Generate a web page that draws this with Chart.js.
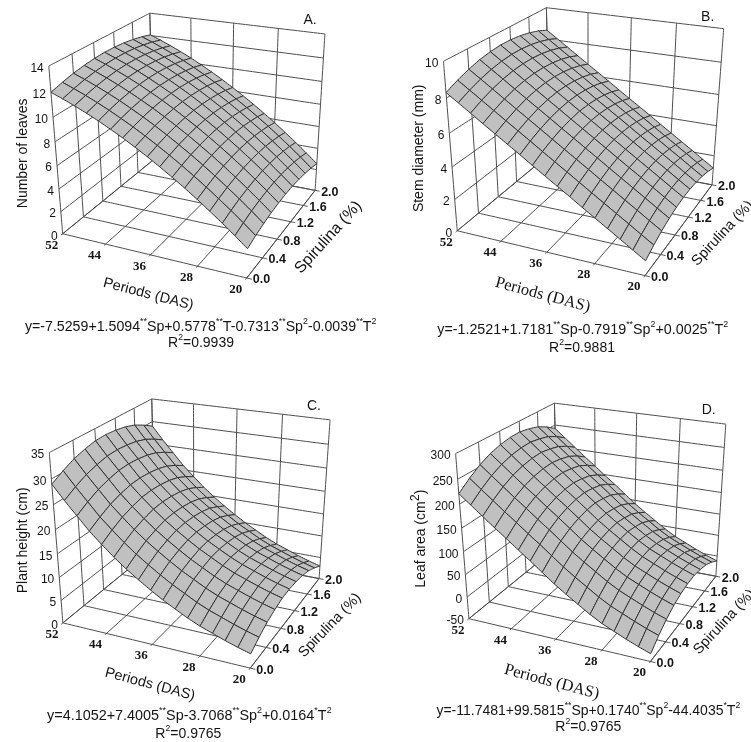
<!DOCTYPE html>
<html><head><meta charset="utf-8">
<script src="https://cdn.jsdelivr.net/npm/chart.js@4"></script>
<style>html,body{margin:0;padding:0;background:#fff;overflow:hidden;width:751px;height:742px}canvas{position:absolute}</style>
</head><body>
<script>
// ---------- axes ----------
const periods = [52,50,48,46,44,42,40,38,36,34,32,30,28,26,24,22,20];
const spirulinaLevels = [0,0.2,0.4,0.6,0.8,1.0,1.2,1.4,1.6,1.8,2.0];
const periodTicks = [52,44,36,28,20];
const spirulinaTicks = [0,0.4,0.8,1.2,1.6,2.0];
const leavesTicks = [0,2,4,6,8,10,12,14];
const stemTicks = [0,2,4,6,8,10];
const heightTicks = [0,5,10,15,20,25,30,35];
const areaTicks = [-50,0,50,100,150,200,250,300];

// ---------- values: one row per period (52 -> 20), one column per spirulina level (0 -> 2) ----------
const leavesGrid = [
[11.97,12.24,12.46,12.61,12.71,12.75,12.73,12.65,12.51,12.32,12.06],
[11.61,11.88,12.10,12.25,12.35,12.39,12.37,12.29,12.15,11.96,11.70],
[11.22,11.49,11.71,11.86,11.96,12.00,11.98,11.90,11.76,11.57,11.31],
[10.80,11.07,11.29,11.44,11.54,11.58,11.56,11.48,11.34,11.15,10.89],
[10.35,10.62,10.84,10.99,11.09,11.13,11.11,11.03,10.89,10.70,10.44],
[9.86,10.13,10.35,10.50,10.60,10.64,10.62,10.54,10.40,10.21,9.95],
[9.35,9.62,9.84,9.99,10.09,10.13,10.11,10.03,9.89,9.70,9.44],
[8.80,9.07,9.29,9.44,9.54,9.58,9.56,9.48,9.34,9.15,8.89],
[8.22,8.49,8.71,8.86,8.96,9.00,8.98,8.90,8.76,8.57,8.31],
[7.61,7.88,8.10,8.25,8.35,8.39,8.37,8.29,8.15,7.96,7.70],
[6.97,7.24,7.46,7.61,7.71,7.75,7.73,7.65,7.51,7.32,7.06],
[6.30,6.57,6.79,6.94,7.04,7.08,7.06,6.98,6.84,6.65,6.39],
[5.60,5.87,6.09,6.24,6.34,6.38,6.36,6.28,6.14,5.95,5.69],
[4.86,5.13,5.35,5.50,5.60,5.64,5.62,5.54,5.40,5.21,4.95],
[4.10,4.37,4.59,4.74,4.84,4.88,4.86,4.78,4.64,4.45,4.19],
[3.30,3.57,3.79,3.94,4.04,4.08,4.06,3.98,3.84,3.65,3.39],
[2.47,2.74,2.96,3.11,3.21,3.25,3.23,3.15,3.01,2.82,2.56]];
const stemGrid = [
[8.30,8.61,8.86,9.05,9.17,9.23,9.22,9.15,9.02,8.83,8.57],
[7.84,8.15,8.40,8.59,8.71,8.77,8.76,8.69,8.56,8.37,8.11],
[7.38,7.69,7.94,8.13,8.25,8.31,8.30,8.23,8.10,7.91,7.65],
[6.91,7.22,7.47,7.66,7.78,7.84,7.83,7.76,7.63,7.44,7.18],
[6.45,6.76,7.01,7.20,7.32,7.38,7.37,7.30,7.17,6.98,6.72],
[5.99,6.30,6.55,6.74,6.86,6.92,6.91,6.84,6.71,6.52,6.26],
[5.53,5.84,6.09,6.28,6.40,6.46,6.45,6.38,6.25,6.06,5.80],
[5.06,5.37,5.62,5.81,5.93,5.99,5.98,5.91,5.78,5.59,5.33],
[4.60,4.91,5.16,5.35,5.47,5.53,5.52,5.45,5.32,5.13,4.87],
[4.14,4.45,4.70,4.89,5.01,5.07,5.06,4.99,4.86,4.67,4.41],
[3.68,3.99,4.24,4.43,4.55,4.61,4.60,4.53,4.40,4.21,3.95],
[3.21,3.52,3.77,3.96,4.08,4.14,4.13,4.06,3.93,3.74,3.48],
[2.75,3.06,3.31,3.50,3.62,3.68,3.67,3.60,3.47,3.28,3.02],
[2.29,2.60,2.85,3.04,3.16,3.22,3.21,3.14,3.01,2.82,2.56],
[1.83,2.14,2.39,2.58,2.70,2.76,2.75,2.68,2.55,2.36,2.10],
[1.36,1.67,1.92,2.11,2.23,2.29,2.28,2.21,2.08,1.89,1.63],
[0.90,1.21,1.46,1.65,1.77,1.83,1.82,1.75,1.62,1.43,1.17]];
const heightGrid = [
[29.0,30.3,31.4,32.1,32.6,32.7,32.5,32.1,31.4,30.3,29.0],
[26.2,27.5,28.6,29.3,29.8,29.9,29.7,29.3,28.6,27.5,26.2],
[23.6,24.9,26.0,26.7,27.2,27.3,27.1,26.7,26.0,24.9,23.6],
[21.0,22.3,23.4,24.1,24.6,24.7,24.5,24.1,23.4,22.3,21.0],
[18.8,20.1,21.2,21.9,22.4,22.5,22.3,21.9,21.2,20.1,18.8],
[16.7,18.0,19.1,19.8,20.3,20.4,20.2,19.8,19.1,18.0,16.7],
[14.8,16.1,17.2,17.9,18.4,18.5,18.3,17.9,17.2,16.1,14.8],
[13.1,14.4,15.5,16.2,16.7,16.8,16.6,16.2,15.5,14.4,13.1],
[11.5,12.8,13.9,14.6,15.1,15.2,15.0,14.6,13.9,12.8,11.5],
[10.0,11.3,12.4,13.1,13.6,13.7,13.5,13.1,12.4,11.3,10.0],
[8.7,10.0,11.1,11.8,12.3,12.4,12.2,11.8,11.1,10.0,8.7],
[7.4,8.7,9.8,10.5,11.0,11.1,10.9,10.5,9.8,8.7,7.4],
[6.3,7.6,8.7,9.4,9.9,10.0,9.8,9.4,8.7,7.6,6.3],
[5.4,6.7,7.8,8.5,9.0,9.1,8.9,8.5,7.8,6.7,5.4],
[4.5,5.8,6.9,7.6,8.1,8.2,8.0,7.6,6.9,5.8,4.5],
[3.7,5.0,6.1,6.8,7.3,7.4,7.2,6.8,6.1,5.0,3.7],
[3.0,4.3,5.4,6.1,6.6,6.7,6.5,6.1,5.4,4.3,3.0]];
const areaGrid = [
[221,239,254,265,272,276,277,273,267,256,242],
[202,220,235,246,253,257,258,254,248,237,223],
[183,201,216,227,234,238,239,235,229,218,204],
[164,182,197,208,215,219,220,216,210,199,185],
[146,164,179,190,197,201,202,198,192,181,167],
[127,145,160,171,178,182,183,179,173,162,148],
[109,127,142,153,160,164,165,161,155,144,130],
[90,108,123,134,141,145,146,142,136,125,111],
[71,89,104,115,122,126,127,123,117,106,92],
[54,72,87,98,105,109,110,106,100,89,75],
[38,56,71,82,89,93,94,90,84,73,59],
[22,40,55,66,73,77,78,74,68,57,43],
[8,26,41,52,59,63,64,60,54,43,29],
[-3,15,30,41,48,52,53,49,43,32,18],
[-14,4,19,30,37,41,42,38,32,21,7],
[-24,-6,9,20,27,31,32,28,22,11,-3],
[-33,-15,0,11,18,22,23,19,13,2,-12]];

// ---------- 3-D camera of each panel: where known box points land (3x crop units) ----------
const SANS = '"Liberation Sans", Arial, sans-serif', SERIF = '"Liberation Serif", "Times New Roman", serif';
const panels = [
 { left:0, top:0, width:385, height:370, grid:leavesGrid, zTicks:leavesTicks,
   cam:{ wallTop:[[148,195],[215,163],[280,130],[340,97],[397,67],[450,38]],
         wallFloor:[[188,700],[250,650],[310,603],[365,558],[412,517]],
         backTop:[[450,38],[573,55],[700,72],[835,85],[975,100]],
         front:[[188,700],[315,735],[450,768],[595,800],[740,830]],
         farFloor:[945,572] },
   zTitle:{t:'Number of leaves',x:70,y:460,size:14}, tTitle:{t:'Periods (DAS)',x:445,y:883,size:14.5,rot:14.5,font:SANS},
   sTitle:{t:'Spirulina (%)',x:985,y:712,size:16,rot:-48}, tag:{t:'A.',x:930,y:60},
   eq:{t:'y=-7.5259+1.5094^**^Sp+0.5778^**^T-0.7313^**^Sp^2^-0.0039^**^T^2^',x:602,y:980,size:14.2}, r2:{t:'R^2^=0.9939',x:603,y:1030} },
 { left:376, top:0, width:375, height:370, grid:stemGrid, zTicks:stemTicks,
   cam:{ wallTop:[[205,180],[275,145],[340,112],[400,80],[457,50],[510,22]],
         wallFloor:[[245,690],[310,640],[367,592],[420,547]],
         backTop:[[510,22],[637,42],[767,55],[903,70],[1043,87]],
         front:[[245,690],[375,725],[510,760],[655,793],[805,827]],
         farFloor:[1010,548] },
   zTitle:{t:'Stem diameter (mm)',x:128,y:445,size:14}, tTitle:{t:'Periods (DAS)',x:500,y:885,size:16.5,rot:15,font:SERIF},
   sTitle:{t:'Spirulina (%)',x:1040,y:700,size:14.5,rot:-47}, tag:{t:'B.',x:995,y:50},
   eq:{t:'y=-1.2521+1.7181^**^Sp-0.7919^**^Sp^2^+0.0025^**^T^2^',x:620,y:990,size:14.3}, r2:{t:'R^2^=0.9881',x:618,y:1045} },
 { left:0, top:372, width:385, height:370, grid:heightGrid, zTicks:heightTicks,
   cam:{ wallTop:[[148,237],[218,205],[285,172],[345,140],[403,110],[455,80]],
         wallFloor:[[190,752],[252,700],[310,652],[365,605]],
         backTop:[[455,80],[580,97],[712,110],[848,125],[990,145]],
         front:[[190,752],[320,790],[455,820],[600,852],[750,885]],
         farFloor:[958,620] },
   zTitle:{t:'Plant height (cm)',x:68,y:505,size:14}, tTitle:{t:'Periods (DAS)',x:450,y:937,size:14.5,rot:15,font:SANS},
   sTitle:{t:'Spirulina (%)',x:990,y:760,size:14.5,rot:-46}, tag:{t:'C.',x:942,y:103},
   eq:{t:'y=4.1052+7.4005^**^Sp-3.7068^**^Sp^2^+0.0164^*^T^2^',x:568,y:1032,size:14.4}, r2:{t:'R^2^=0.9765',x:565,y:1085} },
 { left:376, top:372, width:375, height:370, grid:areaGrid, zTicks:areaTicks,
   cam:{ wallTop:[[238,243],[308,210],[370,177],[430,150],[485,120],[535,93]],
         wallFloor:[[278,740],[340,690],[395,645],[450,600]],
         backTop:[[535,93],[657,108],[782,125],[912,140],[1050,155]],
         front:[[278,740],[410,770],[540,800],[680,835],[820,870]],
         farFloor:[1020,612] },
   zTitle:{t:'Leaf area (cm^2^)',x:135,y:500,size:14}, tTitle:{t:'Periods (DAS)',x:527,y:930,size:16.5,rot:15,font:SERIF},
   sTitle:{t:'Spirulina (%)',x:1045,y:750,size:14.5,rot:-47}, tag:{t:'D.',x:998,y:113},
   eq:{t:'y=-11.7481+99.5815^**^Sp+0.1740^**^Sp^2^-44.4035^*^T^2^',x:637,y:1017,size:14}, r2:{t:'R^2^=0.9765',x:637,y:1065} }
];

// ---------- projective camera fit ----------
function solve(A,b){
  const n=b.length, M=A.map((r,i)=>[...r,b[i]]);
  for(let c=0;c<n;c++){
    let p=c; for(let r=c+1;r<n;r++) if(Math.abs(M[r][c])>Math.abs(M[p][c])) p=r;
    [M[c],M[p]]=[M[p],M[c]];
    for(let r=0;r<n;r++){ if(r===c) continue; const f=M[r][c]/M[c][c]; for(let k=c;k<=n;k++) M[r][k]-=f*M[c][k]; }
  }
  return M.map((r,i)=>r[n]/r[i]);
}
function fitCamera(cam){
  const pts=[], U=t=>(52-t)/32, V=s=>s/2;
  cam.wallTop.forEach((p,i)=>pts.push([0,V(spirulinaTicks[i]),1,p[0]/3,p[1]/3]));
  cam.wallFloor.forEach((p,i)=>pts.push([0,V(spirulinaTicks[i]),0,p[0]/3,p[1]/3]));
  cam.backTop.forEach((p,i)=>pts.push([U(periodTicks[i]),1,1,p[0]/3,p[1]/3]));
  cam.front.forEach((p,i)=>pts.push([U(periodTicks[i]),0,0,p[0]/3,p[1]/3]));
  pts.push([1,1,0,cam.farFloor[0]/3,cam.farFloor[1]/3]);
  const N=Array.from({length:11},()=>new Array(11).fill(0)), B=new Array(11).fill(0);
  const add=(row,rhs)=>{for(let i=0;i<11;i++){B[i]+=row[i]*rhs;for(let j=0;j<11;j++)N[i][j]+=row[i]*row[j];}};
  pts.forEach(([u,v,w,x,y])=>{
    add([u,v,w,1,0,0,0,0,-x*u,-x*v,-x*w],x);
    add([0,0,0,0,u,v,w,1,-y*u,-y*v,-y*w],y);
  });
  const p=solve(N,B);
  return (u,v,w)=>{const d=p[8]*u+p[9]*v+p[10]*w+1;return {x:(p[0]*u+p[1]*v+p[2]*w+p[3])/d,y:(p[4]*u+p[5]*v+p[6]*w+p[7])/d};};
}

// ---------- text ----------
function drawText(ctx,str,x,y,o){
  o=o||{}; const size=o.size||12, fam=o.font||SANS, pre=(o.style?o.style+' ':'')+(o.weight?o.weight+' ':'');
  const segs=String(str).split('^').map((t,i)=>({t,sup:i%2===1})).filter(s=>s.t);
  const fnt=s=>pre+(s.sup?size*(s.t==='2'&&o.bigSup?0.9:0.62):size)+'px '+fam;
  let w=0; segs.forEach(s=>{ctx.font=fnt(s);w+=ctx.measureText(s.t).width;});
  ctx.save(); ctx.translate(x,y); ctx.rotate((o.rot||0)*Math.PI/180);
  ctx.fillStyle='#141414'; ctx.textBaseline='middle'; ctx.textAlign='left';
  let cx=o.align==='right'?-w:o.align==='left'?0:-w/2;
  segs.forEach(s=>{ctx.font=fnt(s);ctx.fillText(s.t,cx,s.sup?-size*0.38:0);cx+=ctx.measureText(s.t).width;});
  ctx.restore();
}

// ---------- one chart per panel ----------
const STRAIGHT = 0.001; // non-zero keeps Chart.js off its column-merging fast path, so unsorted cells stay exact
panels.forEach(P=>{
  const canvas=document.createElement('canvas');
  canvas.width=P.width; canvas.height=P.height;
  canvas.style.cssText=`left:${P.left}px;top:${P.top}px;width:${P.width}px;height:${P.height}px`;
  document.body.appendChild(canvas);
  const proj=fitCamera(P.cam);
  const zMin=P.zTicks[0], zMax=P.zTicks[P.zTicks.length-1];
  const at=(t,s,z)=>proj((52-t)/32,s/2,(z-zMin)/(zMax-zMin));
  const painted=[];
  const line=(a,b)=>painted.push({data:[a,b],showLine:true,fill:false,pointRadius:0,borderColor:'#4e4e4e',borderWidth:1,tension:STRAIGHT});
  const stubS=-0.03, stubT=19.2;
  // floor
  periodTicks.forEach(t=>line(at(t,stubS,zMin),at(t,2,zMin)));
  spirulinaTicks.forEach(s=>line(at(52,s,zMin),at(stubT,s,zMin)));
  // wall at period 52
  spirulinaTicks.forEach(s=>line(at(52,s,zMin),at(52,s,zMax)));
  P.zTicks.forEach(z=>line(at(52,0,z),at(52,2,z)));
  // wall at spirulina 2
  periodTicks.forEach(t=>line(at(t,2,zMin),at(t,2,zMax)));
  P.zTicks.forEach(z=>line(at(52,2,z),at(20,2,z)));
  // floor edge along the spirulina side
  line(at(20,0,zMin),at(20,2,zMin));
  // surface, far cells first
  for(let j=spirulinaLevels.length-2;j>=0;j--){
    for(let i=0;i<periods.length-1;i++){
      const p=(a,b)=>at(periods[a],spirulinaLevels[b],P.grid[a][b]);
      painted.push({data:[p(i,j),p(i+1,j),p(i+1,j+1),p(i,j+1),p(i,j)],showLine:true,fill:'shape',
        backgroundColor:'#c0c0c0',borderColor:'#2e2e2e',borderWidth:1,pointRadius:0,tension:STRAIGHT});
    }
  }
  const labels={id:'labels',afterDatasetsDraw(chart){
    const c=chart.ctx, u=v=>v/3;
    P.zTicks.forEach(z=>{const q=at(52,0,z);drawText(c,String(z),q.x-5,q.y+2.5,{align:'right'});});
    periodTicks.forEach(t=>{const q=at(t,0,zMin);drawText(c,String(t),q.x-11,q.y+11.5,{font:SERIF,weight:'bold',size:13});});
    spirulinaTicks.forEach(s=>{const q=at(20,s,zMin);drawText(c,s.toFixed(1),q.x+6,q.y+2,{align:'left',weight:'bold',size:12.5});});
    drawText(c,P.zTitle.t,u(P.zTitle.x),u(P.zTitle.y),{size:P.zTitle.size,rot:-90,bigSup:true});
    drawText(c,P.tTitle.t,u(P.tTitle.x),u(P.tTitle.y),{size:P.tTitle.size,rot:P.tTitle.rot,font:P.tTitle.font});
    drawText(c,P.sTitle.t,u(P.sTitle.x),u(P.sTitle.y),{size:P.sTitle.size,rot:P.sTitle.rot});
    drawText(c,P.tag.t,u(P.tag.x),u(P.tag.y),{size:14});
    drawText(c,P.eq.t,u(P.eq.x),u(P.eq.y),{size:P.eq.size});
    drawText(c,P.r2.t,u(P.r2.x),u(P.r2.y),{size:14});
  }};
  new Chart(canvas,{type:'scatter',data:{datasets:painted.reverse()},plugins:[labels],options:{
    responsive:false,animation:false,devicePixelRatio:1,
    layout:{padding:0,autoPadding:false},
    plugins:{legend:{display:false},tooltip:{enabled:false},title:{display:false}},
    scales:{x:{type:'linear',display:false,min:0,max:P.width},y:{type:'linear',display:false,min:0,max:P.height,reverse:true}}
  }});
});
</script>
</body></html>
